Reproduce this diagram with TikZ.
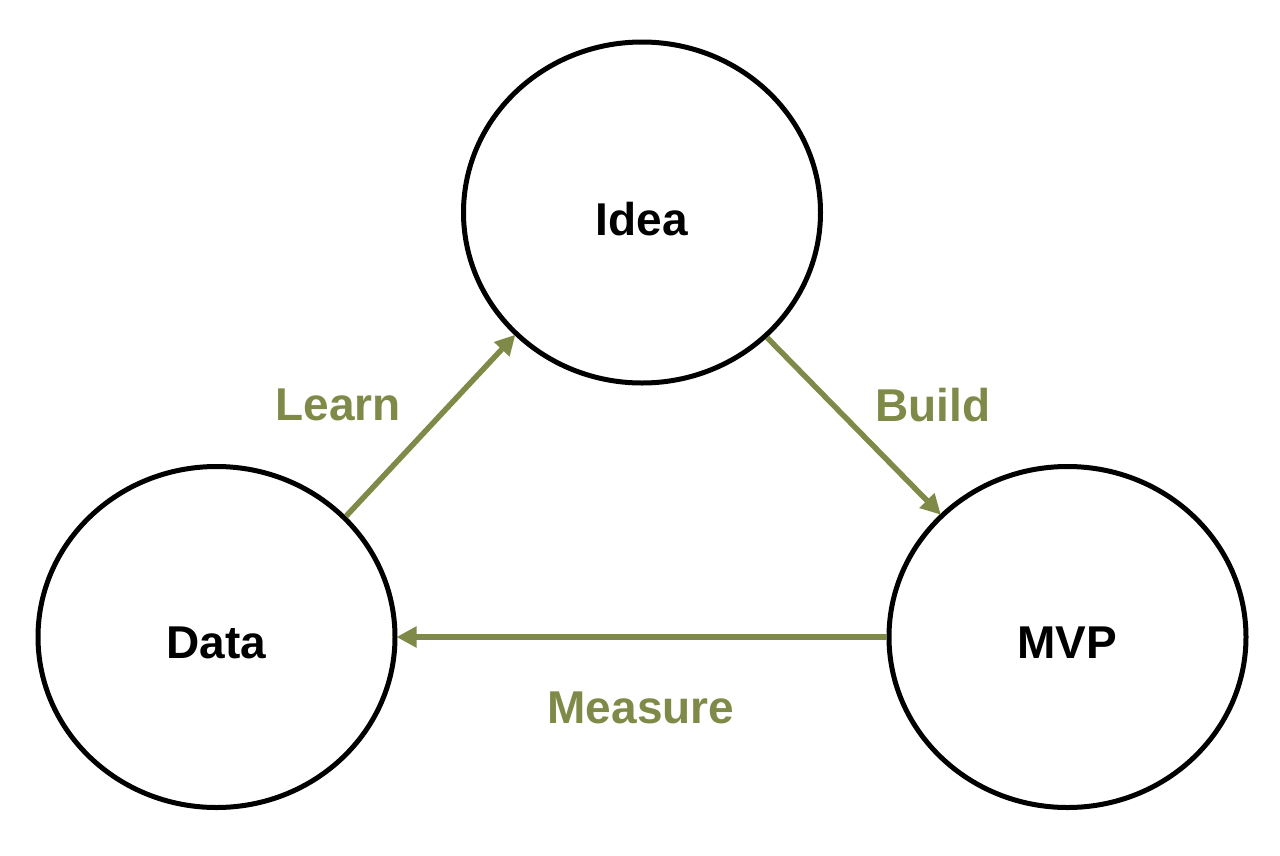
\documentclass[tikz,border=0pt]{standalone}
\usepackage{fontspec}
\setmainfont{Liberation Sans}
\usetikzlibrary{shapes.geometric,arrows.meta}
\definecolor{olive}{RGB}{127,137,72}
\newcommand{\lowtext}[1]{\raisebox{0pt}[\dimexpr\height+12pt\relax][0pt]{#1}}
\tikzset{
  stage/.style={ellipse, draw=black, line width=5pt, minimum width=357pt, minimum height=341pt, inner sep=0pt, font=\fontsize{46}{52}\selectfont\bfseries},
  flow/.style={draw=olive, line width=5.5pt, -{Triangle[length=20pt,width=20pt]}, shorten >=-1pt},
  flowlabel/.style={text=olive, font=\fontsize{46}{52}\selectfont\bfseries, inner sep=0pt}
}
\begin{document}
\begin{tikzpicture}[x=1pt,y=-1pt]
\useasboundingbox (0,0) rectangle (1280,855);
\node[stage] (idea) at (642,212.5) {\lowtext{Idea}};
\node[stage] (data) at (216.5,637) {\lowtext{Data}};
\node[stage] (mvp) at (1067.5,637) {\lowtext{MVP}};
\draw[flow] (data.43) -- (idea.224.5);
\draw[flow] (idea.315.5) -- (mvp.136.6);
\draw[flow] (mvp.west) -- (data.east);
\node[flowlabel] (learn) at (338,405) {Learn};
\node[flowlabel] (build) at (933,405) {Build};
\node[flowlabel] (measure) at (641,708) {Measure};
\end{tikzpicture}
\end{document}
